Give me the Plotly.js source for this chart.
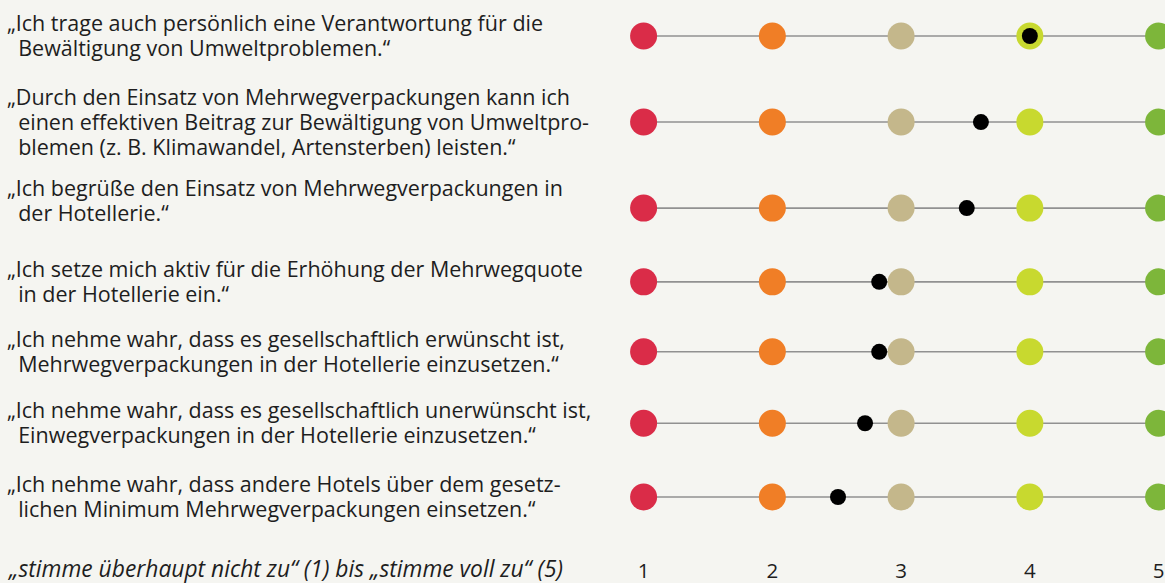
<!DOCTYPE html>
<html><head><meta charset="utf-8">
<script src="https://cdn.plot.ly/plotly-3.0.1.min.js"></script>
<style>html,body{margin:0;padding:0;background:#f5f5f1;}</style>
</head><body><div id="chart" style="width:1165px;height:583px;"></div>
<script>
// ---- data ----
const statements = [
  ["„Ich trage auch persönlich eine Verantwortung für die", "Bewältigung von Umweltproblemen.“"],
  ["„Durch den Einsatz von Mehrwegverpackungen kann ich", "einen effektiven Beitrag zur Bewältigung von Umweltpro-", "blemen (z. B. Klimawandel, Artensterben) leisten.“"],
  ["„Ich begrüße den Einsatz von Mehrwegverpackungen in", "der Hotellerie.“"],
  ["„Ich setze mich aktiv für die Erhöhung der Mehrwegquote", "in der Hotellerie ein.“"],
  ["„Ich nehme wahr, dass es gesellschaftlich erwünscht ist,", "Mehrwegverpackungen in der Hotellerie einzusetzen.“"],
  ["„Ich nehme wahr, dass es gesellschaftlich unerwünscht ist,", "Einwegverpackungen in der Hotellerie einzusetzen.“"],
  ["„Ich nehme wahr, dass andere Hotels über dem gesetz-", "lichen Minimum Mehrwegverpackungen einsetzen.“"]
];
const scaleValues = [1, 2, 3, 4, 5];
const tickLabels = ["1", "2", "3", "4", "5"];
const meanValues = [4.0, 3.62, 3.51, 2.83, 2.83, 2.72, 2.51];
const noteText = "„stimme überhaupt nicht zu“ (1) bis „stimme voll zu“ (5)";

// ---- layout / style ----
const rowPos = [0, 1.12, 2.24, 3.2, 4.11, 5.04, 6.0];
const labelShift = [0, 0, 7, 0, 0, 0, 0];
const scaleColors = ["#DA2C48", "#F07E26", "#C4B78B", "#C8D92F", "#7DB63A"];
const FONT = "Open Sans, Noto Sans, sans-serif";
const TXT = "#1e1e1e";
const BASE_FS = 19.2;   // controls line spacing (1.3 x base = 25px)
const FS = 21.5;        // glyph size
const INDENT = "\u00A0\u00A0";

const traces = [];
rowPos.forEach((y) => {
  traces.push({
    x: [scaleValues[0], scaleValues[scaleValues.length - 1]],
    y: [y, y], mode: "lines", hoverinfo: "skip", showlegend: false,
    line: {color: "#919191", width: 1.6}
  });
});
const dx = [], dy = [], dc = [];
rowPos.forEach((y) => {
  scaleValues.forEach((v, j) => { dx.push(v); dy.push(y); dc.push(scaleColors[j]); });
});
traces.push({x: dx, y: dy, mode: "markers", showlegend: false, cliponaxis: false,
  marker: {size: 27, color: dc, line: {width: 0}}});
traces.push({x: meanValues, y: rowPos, mode: "markers", showlegend: false, cliponaxis: false,
  marker: {size: 16, color: "#000000", line: {width: 0}}});

const annotations = [];
statements.forEach((lines, i) => {
  const text = lines.map((t, k) =>
    '<span style="font-size:' + FS + 'px">' + (k === 0 ? "" : INDENT) + t + '</span>'
  ).join("<br>");
  annotations.push({
    xref: "paper", yref: "y", x: 6 / 1165, y: rowPos[i],
    xanchor: "left", yanchor: "middle", showarrow: false, align: "left",
    borderpad: 0, yshift: labelShift[i] + 1,
    text: text, font: {family: FONT, size: BASE_FS, color: TXT}
  });
});
annotations.push({
  xref: "paper", yref: "paper", x: 6 / 1165, y: 0,
  xanchor: "left", yanchor: "bottom", showarrow: false, align: "left", borderpad: 0,
  yshift: -2,
  text: noteText, font: {family: FONT, size: 22.8, color: TXT, style: "italic"}
});

const plotBottom = 555;
const pxPerUnit = (497 - 36) / 6;
const yTop = -36 / pxPerUnit;
const yBot = (plotBottom - 36) / pxPerUnit;
const unitX = (1158.6 - 643.6) / 4;
const xa = 1 - (643.6 - 600) / unitX;
const xb = xa + 565 / unitX;

const layout = {
  width: 1165, height: 583,
  margin: {l: 0, r: 0, t: 0, b: 0},
  paper_bgcolor: "#f5f5f1", plot_bgcolor: "rgba(0,0,0,0)",
  showlegend: false,
  xaxis: {domain: [600 / 1165, 1], range: [xa, xb], showgrid: false, zeroline: false,
    showline: false, ticks: "", tickvals: scaleValues, ticktext: tickLabels,
    ticklabelstandoff: 1,
    tickfont: {family: FONT, size: 20.5, color: TXT}, fixedrange: true},
  yaxis: {domain: [(583 - plotBottom) / 583, 1], range: [yBot, yTop], showgrid: false,
    zeroline: false, showline: false, showticklabels: false, ticks: "", fixedrange: true},
  annotations: annotations,
  font: {family: FONT}
};
Plotly.newPlot("chart", traces, layout, {displayModeBar: false, staticPlot: true});
</script></body></html>
